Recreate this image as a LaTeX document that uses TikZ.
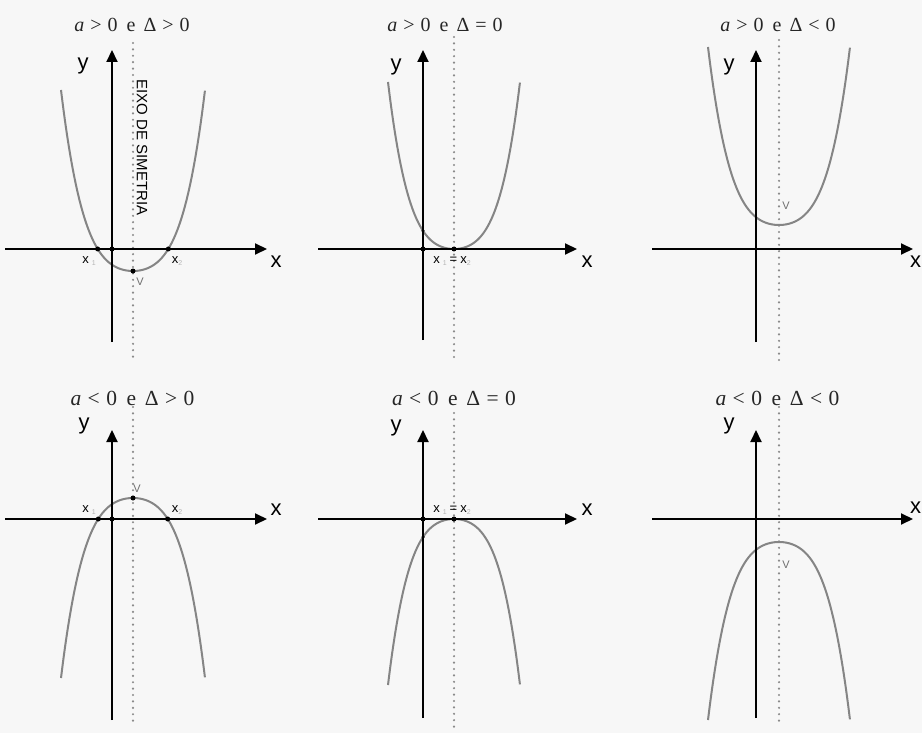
\documentclass[tikz,border=0pt]{standalone}
\usepackage{fontspec}
\setmainfont{Liberation Serif}
\newfontfamily\lsans{Liberation Sans}
\usetikzlibrary{arrows.meta}
\definecolor{bg}{HTML}{F7F7F7}
\definecolor{curvec}{HTML}{858585}
\definecolor{dotc}{HTML}{8A8A8A}
\definecolor{subc}{HTML}{B4B4B4}
\definecolor{vc}{HTML}{6E6E6E}
\newcommand{\lowsub}[1]{\raisebox{-2pt}{\fontsize{7}{7}\selectfont\color{subc}#1}}
\newcommand{\cond}[2]{\textit{a}\hspace{.3em}#1\hspace{.3em}0\hspace{.45em}e\hspace{.4em}Δ\hspace{.3em}#2\hspace{.3em}0}
\tikzset{
 axisline/.style={line width=2pt, -{Triangle[length=12pt,width=11pt]}},
 curveline/.style={curvec, line width=2pt},
 symline/.style={dotc, line width=2.4pt, line cap=round, dash pattern=on 0pt off 6.4pt},
 titletext/.style={anchor=base, inner sep=0pt, text=black!85, font=\fontsize{20}{20}\selectfont},
 titletextb/.style={anchor=base, inner sep=0pt, text=black!85, font=\fontsize{21.5}{21.5}\selectfont},
 axislabel/.style={anchor=base, inner sep=0pt, font=\lsans\fontsize{22}{22}\selectfont},
 rootlabel/.style={anchor=base, inner sep=0pt, font=\lsans\fontsize{13}{13}\selectfont},
 vlabel/.style={anchor=base, inner sep=0pt, text=vc, font=\lsans\fontsize{11}{11}\selectfont},
 dotmark/.style={circle, fill=black, inner sep=0pt, minimum size=5pt},
}
\begin{document}
\begin{tikzpicture}[x=1pt,y=-1pt]
\useasboundingbox (0,0) rectangle (922,733);
\fill[bg] (0,0) rectangle (922,733);

% ---------- Panel 1: a>0, D>0 ----------
\coordinate (L1) at (5,249); \coordinate (R1) at (267,249);
\coordinate (B1) at (112,342); \coordinate (T1) at (112,50);
\coordinate (S1a) at (133,43); \coordinate (S1b) at (133,362);
\draw[symline] (S1a) -- (S1b);
\draw[curveline] plot[domain=-1:1, samples=101, smooth] ({133+72*\x},{271-181*(0.35*\x*\x+0.65*\x*\x*\x*\x)});
\draw[axisline] (L1) -- (R1);
\draw[axisline] (B1) -- (T1);
\node[titletext] (t1) at (132,32) {\cond{>}{>}};
\node[axislabel] (y1) at (83,70) {y};
\node[axislabel] (x1) at (276,267) {x};
\node[dotmark] (r1a) at (97.7,249) {};
\node[dotmark] (r1b) at (168.3,249) {};
\node[dotmark] (o1) at (112,249) {};
\node[dotmark] (v1) at (133,271) {};
\node[rootlabel] (lx1a) at (89,263) {x\hspace{3pt}\lowsub{1}};
\node[rootlabel] (lx1b) at (177,263) {x\lowsub{2}};
\node[vlabel] (lv1) at (140,285) {V};
\node[inner sep=0pt, rotate=-90, font=\lsans\fontsize{15}{15}\selectfont] (eixo) at (142,147.5) {EIXO DE SIMETRIA};

% ---------- Panel 2: a>0, D=0 ----------
\coordinate (L2) at (318,249); \coordinate (R2) at (577,249);
\coordinate (B2) at (423,340); \coordinate (T2) at (423,50);
\coordinate (S2a) at (454,37); \coordinate (S2b) at (454,357);
\draw[symline] (S2a) -- (S2b);
\draw[curveline] plot[domain=-1:1, samples=101, smooth] ({454+66*\x},{249-167*(0.35*\x*\x+0.65*\x*\x*\x*\x)});
\draw[axisline] (L2) -- (R2);
\draw[axisline] (B2) -- (T2);
\node[titletext] (t2) at (445,32) {\cond{>}{=}};
\node[axislabel] (y2) at (396,71) {y};
\node[axislabel] (x2) at (587,267) {x};
\node[dotmark] (o2) at (423,249) {};
\node[dotmark] (v2) at (454,249) {};
\node[dotmark, minimum size=3.5pt] (c2) at (423,230.8) {};
\node[rootlabel] (lx2) at (452,263) {x\hspace{3pt}\lowsub{1}\hspace{3pt}=\hspace{3pt}x\lowsub{2}};

% ---------- Panel 3: a>0, D<0 ----------
\coordinate (L3) at (652,249); \coordinate (R3) at (913,249);
\coordinate (B3) at (756,342); \coordinate (T3) at (756,50);
\coordinate (S3a) at (779,40); \coordinate (S3b) at (779,362);
\draw[symline] (S3a) -- (S3b);
\draw[curveline] plot[domain=-1:1, samples=101, smooth] ({779+71*\x},{225-178*(0.35*\x*\x+0.65*\x*\x*\x*\x)});
\draw[axisline] (L3) -- (R3);
\draw[axisline] (B3) -- (T3);
\node[titletext] (t3) at (778,32) {\cond{>}{<}};
\node[axislabel] (y3) at (729,71) {y};
\node[axislabel] (x3) at (915.5,267) {x};
\node[vlabel] (lv3) at (786,210) {V};

% ---------- Panel 4: a<0, D>0 ----------
\coordinate (L4) at (5,519); \coordinate (R4) at (267,519);
\coordinate (B4) at (112,720); \coordinate (T4) at (112,430);
\coordinate (S4a) at (133,407); \coordinate (S4b) at (133,725);
\draw[symline] (S4a) -- (S4b);
\draw[curveline] plot[domain=-1:1, samples=101, smooth] ({133+72*\x},{498+180*(0.35*\x*\x+0.65*\x*\x*\x*\x)});
\draw[axisline] (L4) -- (R4);
\draw[axisline] (B4) -- (T4);
\node[titletextb] (t4) at (132.5,405) {\cond{<}{>}};
\node[axislabel] (y4) at (84,429) {y};
\node[axislabel] (x4) at (276,515) {x};
\node[dotmark] (r4a) at (98.3,519) {};
\node[dotmark] (r4b) at (167.7,519) {};
\node[dotmark] (o4) at (112,519) {};
\node[dotmark] (v4) at (133,498) {};
\node[rootlabel] (lx4a) at (89,512) {x\hspace{3pt}\lowsub{1}};
\node[rootlabel] (lx4b) at (177,512) {x\lowsub{2}};
\node[vlabel] (lv4) at (137,492) {V};

% ---------- Panel 5: a<0, D=0 ----------
\coordinate (L5) at (318,519); \coordinate (R5) at (577,519);
\coordinate (B5) at (423,718); \coordinate (T5) at (423,430);
\coordinate (S5a) at (454,413); \coordinate (S5b) at (454,730);
\draw[symline] (S5a) -- (S5b);
\draw[curveline] plot[domain=-1:1, samples=101, smooth] ({454+66*\x},{519+166*(0.35*\x*\x+0.65*\x*\x*\x*\x)});
\draw[axisline] (L5) -- (R5);
\draw[axisline] (B5) -- (T5);
\node[titletextb] (t5) at (454,405) {\cond{<}{=}};
\node[axislabel] (y5) at (396,431) {y};
\node[axislabel] (x5) at (587,515) {x};
\node[dotmark] (o5) at (423,519) {};
\node[dotmark] (v5) at (454,519) {};
\node[dotmark, minimum size=3.5pt] (c5) at (423,537) {};
\node[rootlabel] (lx5) at (452,512) {x\hspace{3pt}\lowsub{1}\hspace{3pt}=\hspace{3pt}x\lowsub{2}};

% ---------- Panel 6: a<0, D<0 ----------
\coordinate (L6) at (652,519); \coordinate (R6) at (913,519);
\coordinate (B6) at (756,718); \coordinate (T6) at (756,430);
\coordinate (S6a) at (779,407); \coordinate (S6b) at (779,725);
\draw[symline] (S6a) -- (S6b);
\draw[curveline] plot[domain=-1:1, samples=101, smooth] ({779+71*\x},{542+178*(0.35*\x*\x+0.65*\x*\x*\x*\x)});
\draw[axisline] (L6) -- (R6);
\draw[axisline] (B6) -- (T6);
\node[titletextb] (t6) at (777.5,405) {\cond{<}{<}};
\node[axislabel] (y6) at (729,429) {y};
\node[axislabel] (x6) at (915.5,513) {x};
\node[vlabel] (lv6) at (786,568) {V};
\end{tikzpicture}
\end{document}
